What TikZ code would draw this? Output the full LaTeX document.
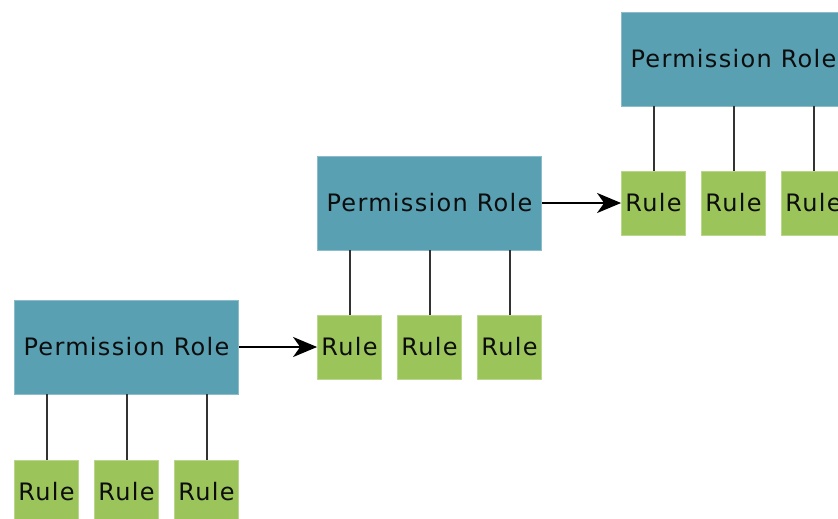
\documentclass[tikz,border=0pt]{standalone}
\usepackage{fontspec}
\setmainfont[LetterSpace=5.5]{DejaVu Sans}
\usetikzlibrary{arrows.meta}
\definecolor{roleblue}{RGB}{88,160,178}
\definecolor{rulegreen}{RGB}{155,196,90}
\tikzset{
  rolebox/.style={fill=roleblue, draw=roleblue!70!white, line width=0.8pt, minimum width=224pt, minimum height=94pt, inner sep=0pt, font=\fontsize{24}{28}\selectfont, text=black!95},
  rulebox/.style={fill=rulegreen, draw=rulegreen!70!white, line width=0.8pt, minimum width=64pt, minimum height=64pt, inner sep=0pt, font=\fontsize{24}{28}\selectfont, text=black!95},
  link/.style={draw=black!80, line width=2pt},
  arr/.style={draw=black, line width=2pt, -{Stealth[length=24pt,width=20pt,inset=7pt]}}
}
\begin{document}
\begin{tikzpicture}[x=1pt,y=-1pt]
\useasboundingbox (0,0) rectangle (838,519);
\clip (0,0) rectangle (838,519);
% bottom group
\node[rolebox] (p1) at (126.5,347) {Permission Role};
\node[rulebox] (r11) at (46.5,492) {Rule};
\node[rulebox] (r12) at (126.5,492) {Rule};
\node[rulebox] (r13) at (206.5,492) {Rule};
% middle group
\node[rolebox] (p2) at (429.5,203) {Permission Role};
\node[rulebox] (r21) at (349.5,347) {Rule};
\node[rulebox] (r22) at (429.5,347) {Rule};
\node[rulebox] (r23) at (509.5,347) {Rule};
% top group
\node[rolebox] (p3) at (733.5,59) {Permission Role};
\node[rulebox] (r31) at (653.5,203) {Rule};
\node[rulebox] (r32) at (733.5,203) {Rule};
\node[rulebox] (r33) at (813.5,203) {Rule};
% links
\foreach \g in {1,2,3}{
  \foreach \k in {1,2,3}{
    \draw[link] (r\g\k.north) -- (r\g\k.north |- p\g.south);
  }
}
\draw[arr] (p1.east) -- (r21.west);
\draw[arr] (p2.east) -- (r31.west);
\end{tikzpicture}
\end{document}
